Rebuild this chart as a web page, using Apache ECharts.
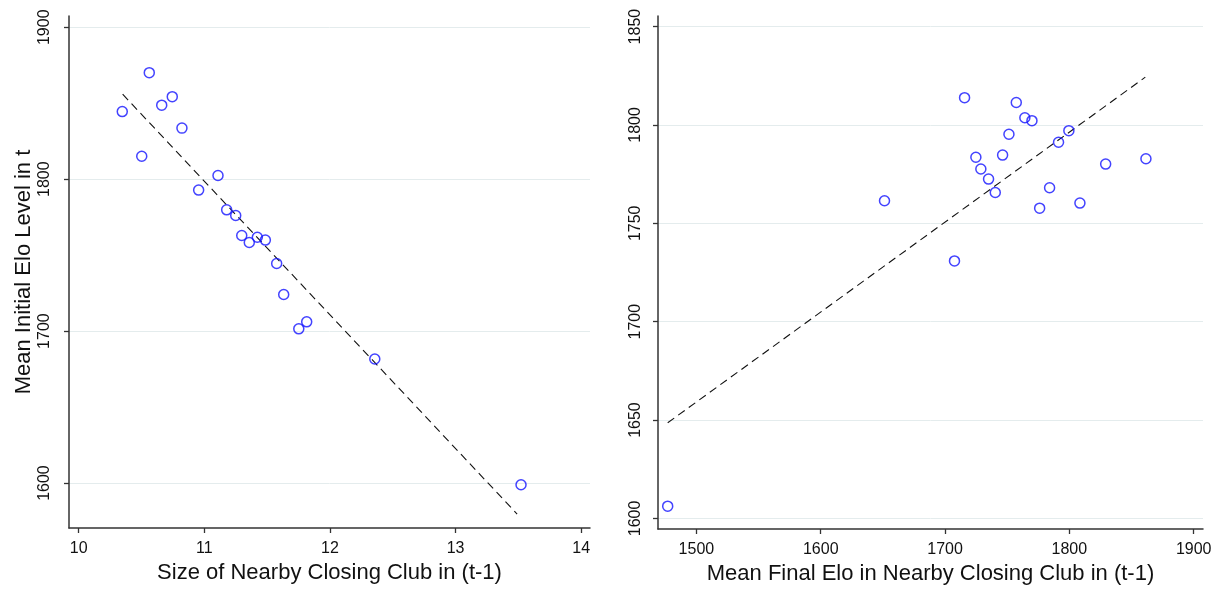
<!DOCTYPE html>
<html><head><meta charset="utf-8">
<script src="https://cdn.jsdelivr.net/npm/echarts@6/dist/echarts.min.js"></script>
<style>html,body{margin:0;padding:0;background:#fff}#c{width:1221px;height:593px}</style>
</head><body><div id="c"></div>
<script>
// Left panel: Size of nearby closing club (t-1) vs mean initial Elo in t
const leftSize = [10.562, 10.745, 10.661, 10.347, 10.822, 10.502, 11.109, 10.955, 11.178, 11.250,
                  11.298, 11.358, 11.422, 11.486, 11.576, 11.632, 11.815, 11.752, 12.357, 13.521];
const leftInitialElo = [1870.1, 1854.3, 1848.7, 1844.5, 1833.6, 1815.1, 1802.4, 1792.8, 1779.8, 1776.1,
                        1762.9, 1758.3, 1761.8, 1759.9, 1744.5, 1724.1, 1706.1, 1701.5, 1681.6, 1598.9];
// Right panel: Mean final Elo in nearby closing club (t-1) vs mean initial Elo in t
const rightFinalElo = [1476.9, 1651.3, 1715.7, 1757.3, 1764.2, 1769.9, 1751.4, 1799.6, 1791.3, 1724.8,
                       1746.3, 1728.8, 1735.0, 1740.4, 1784.1, 1829.2, 1861.6, 1776.1, 1808.5, 1707.6];
const rightInitialElo = [1606.2, 1761.5, 1813.9, 1811.4, 1803.7, 1802.2, 1795.3, 1797.1, 1791.2, 1783.6,
                         1784.7, 1777.6, 1772.5, 1765.7, 1768.1, 1780.1, 1782.8, 1757.7, 1760.3, 1730.9];
// Fitted (dashed) lines, endpoints
const leftFitX = [10.35, 13.49];
const leftFitY = [1855.9, 1579.6];
const rightFitX = [1476.9, 1861.1];
const rightFitY = [1648.6, 1824.3];
// Tick labels
const leftXTicks = [10, 11, 12, 13, 14];
const leftYTicks = [1600, 1700, 1800, 1900];
const rightXTicks = [1500, 1600, 1700, 1800, 1900];
const rightYTicks = [1600, 1650, 1700, 1750, 1800, 1850];

const FONT = 'Liberation Sans, Arial, Helvetica, sans-serif';
const AXIS_COLOR = '#333333';
const TEXT_COLOR = '#111111';
const GRID_COLOR = '#e4eced';
const MARK_COLOR = '#1414ff';
const plain = v => String(v);

function xAxisCfg(gridIndex, min, max, ticks, name) {
  return {
    type: 'value', gridIndex, min, max,
    name, nameLocation: 'middle', nameGap: 30,
    nameTextStyle: {fontSize: 22, color: TEXT_COLOR, fontFamily: FONT},
    axisLine: {show: true, onZero: false, lineStyle: {color: AXIS_COLOR, width: 1.5}},
    axisTick: {show: true, length: 5, inside: false, customValues: ticks, lineStyle: {color: AXIS_COLOR, width: 1.3}},
    axisLabel: {customValues: ticks, formatter: plain, margin: 13, fontSize: 16, color: TEXT_COLOR, fontFamily: FONT},
    splitLine: {show: false}
  };
}
function yAxisCfg(gridIndex, min, max, ticks, name, margin, nameGap) {
  return {
    type: 'value', gridIndex, min, max,
    name, nameLocation: 'middle', nameGap, nameRotate: 90,
    nameTextStyle: {fontSize: 22, color: TEXT_COLOR, fontFamily: FONT},
    axisLine: {show: true, onZero: false, lineStyle: {color: AXIS_COLOR, width: 1.5}},
    axisTick: {show: true, length: 5, inside: false, customValues: ticks, lineStyle: {color: AXIS_COLOR, width: 1.3}},
    axisLabel: {customValues: ticks, formatter: plain, rotate: 90, margin, fontSize: 16, color: TEXT_COLOR, fontFamily: FONT},
    splitLine: {show: true, lineStyle: {color: GRID_COLOR, width: 1}}
  };
}
function pairs(xs, ys) { return xs.map((x, i) => [x, ys[i]]); }

const scatterStyle = {
  type: 'scatter', symbol: 'circle', symbolSize: 10,
  itemStyle: {color: 'rgba(0,0,0,0)', borderColor: MARK_COLOR, borderWidth: 1.5},
  emphasis: {disabled: true}, silent: true, z: 3
};
const fitStyle = {
  type: 'line', showSymbol: false, symbol: 'none', silent: true, z: 2,
  lineStyle: {color: '#111111', width: 1.1, type: [8, 5]}
};

const chart = echarts.init(document.getElementById('c'), null, {renderer: 'canvas'});
chart.setOption({
  animation: false,
  backgroundColor: '#ffffff',
  textStyle: {fontFamily: FONT},
  grid: [
    {left: 69, top: 16, width: 521, height: 512},
    {left: 658, top: 16, width: 545, height: 513}
  ],
  xAxis: [
    xAxisCfg(0, 9.923, 14.07, leftXTicks, 'Size of Nearby Closing Club in (t-1)'),
    xAxisCfg(1, 1469.1, 1907.5, rightXTicks, 'Mean Final Elo in Nearby Closing Club in (t-1)')
  ],
  yAxis: [
    yAxisCfg(0, 1570.4, 1907.4, leftYTicks, 'Mean Initial Elo Level in t', 16, 34),
    yAxisCfg(1, 1594.6, 1855.4, rightYTicks, '', 14, 30)
  ],
  series: [
    Object.assign({}, scatterStyle, {xAxisIndex: 0, yAxisIndex: 0, data: pairs(leftSize, leftInitialElo)}),
    Object.assign({}, fitStyle, {xAxisIndex: 0, yAxisIndex: 0, data: pairs(leftFitX, leftFitY)}),
    Object.assign({}, scatterStyle, {xAxisIndex: 1, yAxisIndex: 1, data: pairs(rightFinalElo, rightInitialElo)}),
    Object.assign({}, fitStyle, {xAxisIndex: 1, yAxisIndex: 1, data: pairs(rightFitX, rightFitY)})
  ]
});
</script>
</body></html>
